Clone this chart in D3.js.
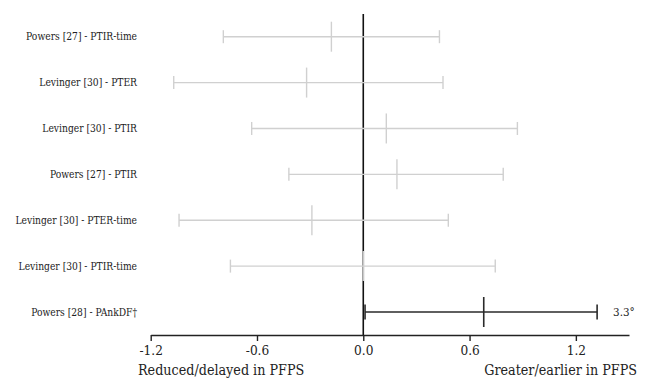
<!DOCTYPE html>
<html>
<head>
<meta charset="utf-8">
<script src="https://cdn.jsdelivr.net/npm/d3@7"></script>
<style>
  body { margin: 0; background: #fff; }
  text { font-family: "DejaVu Serif Condensed", "DejaVu Serif", serif; font-stretch: condensed; }
</style>
</head>
<body>
<svg id="chart" width="652" height="384"></svg>
<script>
const studies = [
  "Powers [27] - PTIR-time",
  "Levinger [30] - PTER",
  "Levinger [30] - PTIR",
  "Powers [27] - PTIR",
  "Levinger [30] - PTER-time",
  "Levinger [30] - PTIR-time",
  "Powers [28] - PAnkDF\u2020"
];
const means = [-0.18, -0.32, 0.13, 0.19, -0.29, 0.0, 0.68];
const lower = [-0.79, -1.07, -0.63, -0.42, -1.04, -0.75, 0.01];
const upper = [0.43, 0.45, 0.87, 0.79, 0.48, 0.745, 1.32];
const significant = [false, false, false, false, false, false, true];
const sigNote = "3.3\u00b0";
const tickValues = [-1.2, -0.6, 0.0, 0.6, 1.2];

const rows = studies.map((s, i) => ({
  name: s, mean: means[i], lo: lower[i], hi: upper[i], sig: significant[i]
}));

const svg = d3.select("#chart");
const x = d3.scaleLinear().domain([-1.2, 1.5]).range([150.7, 629]);
const y = d3.scalePoint().domain(studies).range([36.7, 312]);
const axisY = 335;

// row labels
svg.append("g")
  .selectAll("text")
  .data(rows)
  .join("text")
  .attr("x", 137)
  .attr("y", d => y(d.name))
  .attr("dy", "0.35em")
  .attr("text-anchor", "end")
  .attr("font-size", 10.2)
  .attr("fill", "#222")
  .text(d => d.name);

// zero line
svg.append("line")
  .attr("x1", x(0)).attr("x2", x(0))
  .attr("y1", 14).attr("y2", axisY)
  .attr("stroke", "#111")
  .attr("stroke-width", 1.6);

// whiskers
const g = svg.append("g")
  .selectAll("g")
  .data(rows)
  .join("g")
  .attr("transform", d => `translate(0,${y(d.name)})`)
  .attr("stroke", d => d.sig ? "#2a2a2a" : "#d0d0d0")
  .attr("stroke-width", d => d.sig ? 1.6 : 1.4);

g.append("line")
  .attr("x1", d => x(d.lo)).attr("x2", d => x(d.hi))
  .attr("y1", 0).attr("y2", 0);
g.append("line")
  .attr("x1", d => x(d.lo)).attr("x2", d => x(d.lo))
  .attr("y1", d => d.sig ? -7.5 : -6.5).attr("y2", d => d.sig ? 7.5 : 6.5);
g.append("line")
  .attr("x1", d => x(d.hi)).attr("x2", d => x(d.hi))
  .attr("y1", d => d.sig ? -7.5 : -6.5).attr("y2", d => d.sig ? 7.5 : 6.5);
g.append("line")
  .attr("x1", d => x(d.mean)).attr("x2", d => x(d.mean))
  .attr("y1", -15).attr("y2", 15);

g.filter(d => d.sig)
  .append("text")
  .attr("x", d => x(d.hi) + 16)
  .attr("y", 0)
  .attr("dy", "0.35em")
  .attr("stroke", "none")
  .attr("fill", "#222")
  .attr("font-size", 11.5)
  .text(sigNote);

// x axis
const axis = svg.append("g")
  .attr("transform", `translate(0,${axisY})`)
  .call(d3.axisBottom(x).tickValues(tickValues).tickSize(6).tickSizeOuter(0).tickFormat(d3.format(".1f")))
  .attr("font-family", null);
axis.select(".domain").attr("stroke", "#222").attr("stroke-width", 1.6);
axis.selectAll(".tick line").attr("stroke", "#222").attr("stroke-width", 1.4);
axis.selectAll(".tick text")
  .attr("font-size", 13.5)
  .attr("fill", "#222")
  .attr("dy", "0.85em")
  .text(d => d3.format(".1f")(d).replace("\u2212", "-"));

// direction labels
svg.append("text")
  .attr("x", 138).attr("y", 375)
  .attr("font-size", 14.2).attr("fill", "#222")
  .text("Reduced/delayed in PFPS");
svg.append("text")
  .attr("x", 637).attr("y", 375)
  .attr("text-anchor", "end")
  .attr("font-size", 14.2).attr("fill", "#222")
  .text("Greater/earlier in PFPS");
</script>
</body>
</html>
